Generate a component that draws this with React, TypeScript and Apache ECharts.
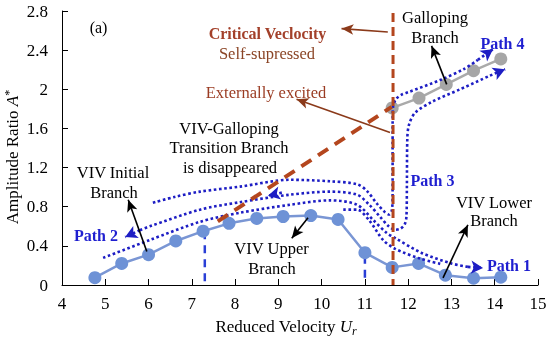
import React, { useEffect, useRef } from 'react';
import * as echarts from 'echarts';

// ---- data ----
const urViv = [4.76, 5.38, 6.0, 6.63, 7.26, 7.86, 8.5, 9.11, 9.75, 10.38, 11.0, 11.63, 12.24, 12.86, 13.51, 14.14];
const ampViv = [0.075, 0.22, 0.31, 0.45, 0.55, 0.63, 0.68, 0.7, 0.71, 0.67, 0.33, 0.18, 0.22, 0.1, 0.07, 0.08];
const urGallop = [11.63, 12.25, 12.88, 13.51, 14.14];
const ampGallop = [1.81, 1.91, 2.05, 2.19, 2.31];

// dotted path curves [Ur, A*]
const pathTop = [[6.1, 0.84], [6.6, 0.9], [7.19, 0.954], [8.11, 1.005], [9.27, 1.075], [10.19, 1.06], [10.82, 1.03], [11.05, 0.96], [11.28, 0.83], [11.45, 0.75], [11.56, 0.72], [11.62, 0.76], [11.64, 0.9], [11.64, 1.6], [11.65, 1.82], [11.72, 1.9], [11.85, 1.945], [12.0, 1.97], [12.77, 2.1], [13.3, 2.21], [13.61, 2.3]];
const pathMid = [[5.8, 0.56], [6.03, 0.6], [7.19, 0.77], [8.11, 0.846], [9.27, 0.923], [10.19, 0.954], [10.82, 0.923], [11.1, 0.82], [11.35, 0.697], [11.55, 0.6], [11.7, 0.564], [11.82, 0.575], [11.92, 0.62], [11.96, 0.7], [11.97, 1.0], [11.98, 1.5], [12.02, 1.64], [12.16, 1.76], [12.54, 1.87], [13.2, 2.0], [13.89, 2.14]];
const pathLow = [[4.95, 0.277], [6.03, 0.46], [7.19, 0.646], [8.11, 0.738], [9.27, 0.82], [10.19, 0.865], [10.82, 0.82], [11.2, 0.66], [11.5, 0.533], [11.7, 0.48], [12.3, 0.33], [13.0, 0.22], [13.38, 0.185]];
const pathLow2 = [[10.5, 0.77], [10.82, 0.77], [11.1, 0.66], [11.42, 0.46], [11.7, 0.37], [12.27, 0.27], [12.8, 0.21]];

// dashed reference lines
const critLine = [[11.65, 2.78], [11.65, 0]];
const exciteLine = [[7.6, 0.65], [11.62, 1.82]];
const upperLimit = [[7.3, 0.55], [7.3, 0]];
const lowerLimit = [[11.0, 0.3], [11.0, 0.03]];

// arrows [from, to]
const blueArrows = [
  [[5.8, 0.56], [5.46, 0.49]],
  [[9.08, 0.944], [8.76, 0.913]],
  [[13.61, 2.3], [13.96, 2.41]],
  [[13.89, 2.14], [14.24, 2.205]],
  [[13.38, 0.185], [13.73, 0.174]],
];
const blackArrows = [
  [[12.89, 2.05], [12.54, 2.444]],
  [[5.96, 0.342], [5.53, 0.872]],
  [[9.685, 0.687], [9.31, 0.479]],
  [[12.805, 0.072], [13.38, 0.615]],
];
const brownArrows = [
  [[11.53, 2.585], [10.46, 2.62]],
  [[11.58, 1.559], [9.42, 1.897]],
];

const xMin = 4, xMax = 15, xStep = 1;
const yMin = 0, yMax = 2.8, yStep = 0.4;

const SERIF = "'Liberation Serif', 'Times New Roman', serif";
const DOT_BLUE = '#1d1dc4';
const TEXT_BLUE = '#1f1fd0';

type Txt = { t: string; x: number; y: number; c?: string; b?: boolean; s?: number };
const labels: Txt[] = [
  { t: '(a)', x: 98.5, y: 27, s: 16 },
  { t: 'Critical Veclocity', x: 267.5, y: 33, c: '#a3402a', b: true, s: 16 },
  { t: 'Self-supressed', x: 267, y: 53, c: '#8b4526' },
  { t: 'Externally excited', x: 266, y: 92, c: '#9a3b22' },
  { t: 'VIV-Galloping', x: 229, y: 128 },
  { t: 'Transition Branch', x: 229, y: 147.5 },
  { t: 'is disappeared', x: 230, y: 167 },
  { t: 'VIV Initial', x: 113, y: 172 },
  { t: 'Branch', x: 114, y: 192 },
  { t: 'VIV Upper', x: 271.5, y: 248 },
  { t: 'Branch', x: 272, y: 268 },
  { t: 'VIV Lower', x: 494, y: 202 },
  { t: 'Branch', x: 494, y: 220 },
  { t: 'Galloping', x: 435, y: 17 },
  { t: 'Branch', x: 435, y: 37 },
  { t: 'Path 1', x: 509, y: 265, c: TEXT_BLUE, b: true, s: 16 },
  { t: 'Path 2', x: 96, y: 235, c: TEXT_BLUE, b: true, s: 16 },
  { t: 'Path 3', x: 432.5, y: 180, c: TEXT_BLUE, b: true, s: 16 },
  { t: 'Path 4', x: 502.5, y: 43, c: TEXT_BLUE, b: true, s: 16 },
];

export default function App() {
  const ref = useRef<HTMLDivElement>(null);
  useEffect(() => {
    const chart = echarts.init(ref.current!, null, { renderer: 'svg' });
    const dotted = (data: number[][]) => ({
      type: 'line', data, symbol: 'none', smooth: 0.3, silent: true, z: 4,
      lineStyle: { color: DOT_BLUE, width: 2.6, type: 'dotted' },
    });
    const dashed = (data: number[][], color: string, width: number, dash: number[], z = 5) => ({
      type: 'line', data, symbol: 'none', silent: true, z,
      lineStyle: { color, width, type: dash },
    });
    const arrows = (list: number[][][], color: string, width: number, size: number[], lineType: any) => ({
      type: 'line', data: [], silent: true, z: 6,
      markLine: {
        silent: true, animation: false, symbol: ['none', 'arrow'], symbolSize: size,
        label: { show: false }, emphasis: { disabled: true },
        lineStyle: { color, width, type: lineType },
        data: list.map((a) => [{ coord: a[0] }, { coord: a[1] }]),
      },
    });
    const tick = { fontFamily: SERIF, fontSize: 17, color: '#000' };
    const yNameGraphic = {
      type: 'text', x: 12.5, y: 157, rotation: Math.PI / 2, silent: true, z: 10,
      style: {
        text: '{n|Amplitude Ratio }{i|A}{s|*}',
        fill: '#000', fontFamily: SERIF, fontSize: 17,
        align: 'center', verticalAlign: 'middle', textAlign: 'center', textVerticalAlign: 'middle',
        rich: {
          n: { ...tick, lineHeight: 20 },
          i: { ...tick, fontStyle: 'italic', lineHeight: 20 },
          s: { ...tick, fontSize: 12, verticalAlign: 'top', lineHeight: 20 },
        },
      },
    };
    const option: any = {
      animation: false,
      grid: { left: 62, right: 12, top: 11, bottom: 53, containLabel: false, outerBoundsMode: 'none' },
      xAxis: {
        type: 'value', min: xMin, max: xMax, interval: xStep,
        axisLine: { show: true, lineStyle: { color: '#000', width: 1 } },
        axisTick: { show: true, inside: true, length: 6, lineStyle: { color: '#000' } },
        axisLabel: { ...tick, margin: 10 },
        splitLine: { show: false },
        name: '{n|Reduced Velocity }{i|U}{s|r}',
        nameLocation: 'middle', nameGap: 30,
        nameTextStyle: {
          ...tick, padding: [0, 28, 0, 0],
          rich: {
            n: { ...tick, lineHeight: 22 },
            i: { ...tick, fontStyle: 'italic', lineHeight: 22 },
            s: { ...tick, fontSize: 12, fontStyle: 'italic', verticalAlign: 'bottom', lineHeight: 22 },
          },
        },
      },
      yAxis: {
        type: 'value', min: yMin, max: yMax, interval: yStep,
        axisLine: { show: true, lineStyle: { color: '#000', width: 1 } },
        axisTick: { show: true, inside: true, length: 6, lineStyle: { color: '#000' } },
        axisLabel: { ...tick, margin: 14 },
        splitLine: { show: false },
      },
      series: [
        dashed(upperLimit, '#2a3fd6', 2.5, [8, 6], 2),
        dashed(lowerLimit, '#2a3fd6', 2.5, [8, 6], 2),
        {
          type: 'line', data: urViv.map((u, i) => [u, ampViv[i]]), symbol: 'circle', symbolSize: 13, z: 3, silent: true,
          itemStyle: { color: '#6e92d6' }, lineStyle: { color: '#7a96d4', width: 2.5 },
        },
        {
          type: 'line', data: urGallop.map((u, i) => [u, ampGallop[i]]), symbol: 'circle', symbolSize: 13, z: 3, silent: true,
          itemStyle: { color: '#a6a6a6' }, lineStyle: { color: '#aaaaaa', width: 2.5 },
        },
        dotted(pathTop),
        dotted(pathMid),
        dotted(pathLow),
        dotted(pathLow2),
        dashed(critLine, '#b4461e', 3, [9, 5]),
        dashed(exciteLine, '#b4461e', 4, [12, 8]),
        arrows(blueArrows, DOT_BLUE, 2.6, [10, 12], 'dotted'),
        arrows(blackArrows, '#000', 1.6, [8, 12], 'solid'),
        arrows(brownArrows, '#8b3a1a', 1.6, [8, 12], 'solid'),
      ],
      graphic: [
        yNameGraphic,
        ...labels.map((l) => ({
          type: 'text', x: l.x, y: l.y, silent: true, z: 10,
          style: {
            text: l.t, fill: l.c || '#000', fontFamily: SERIF, fontSize: l.s || 16.5,
            fontWeight: l.b ? 'bold' : 'normal',
            align: 'center', verticalAlign: 'middle', textAlign: 'center', textVerticalAlign: 'middle',
          },
        })),
      ],
    };
    chart.setOption(option);
    return () => chart.dispose();
  }, []);
  return <div ref={ref} style={{ position: 'fixed', left: 0, top: 0, width: 550, height: 338 }} />;
}
